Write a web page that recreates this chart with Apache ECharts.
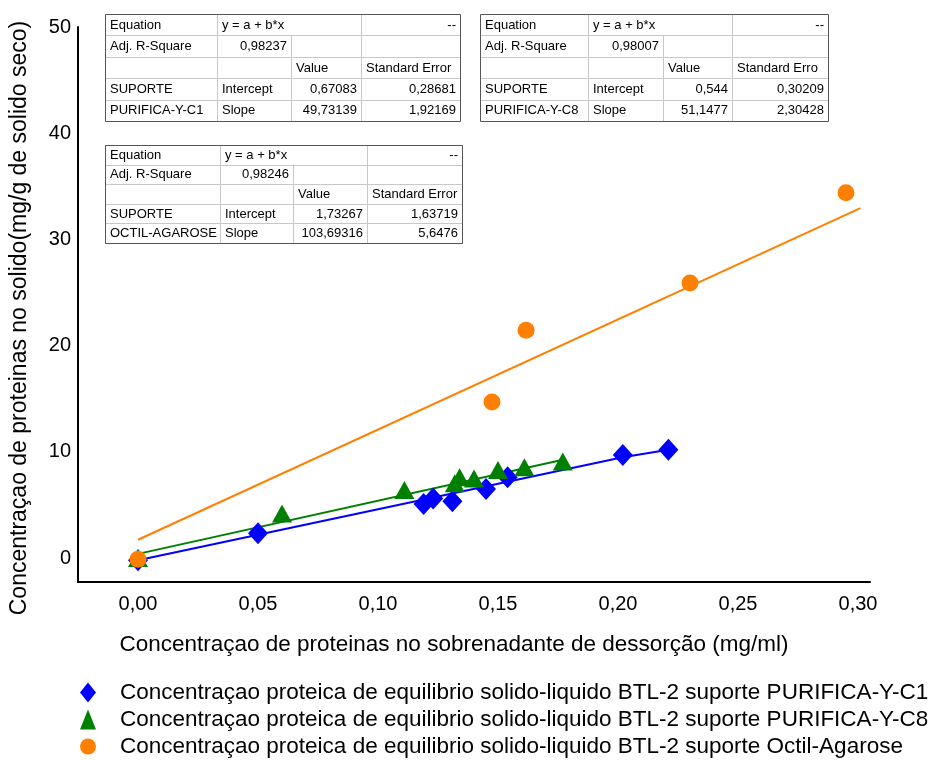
<!DOCTYPE html>
<html>
<head>
<meta charset="utf-8">
<script src="https://cdn.jsdelivr.net/npm/echarts@6/dist/echarts.min.js"></script>
<style>
  html, body { margin: 0; padding: 0; background: #fff; }
  #chart { width: 932px; height: 760px; }
</style>
</head>
<body>
<div id="chart"></div>
<script>
const FONT = '"Liberation Sans", Arial, sans-serif';

// Measured equilibrium points: [protein in desorption supernatant (mg/ml), protein on solid (mg/g)]
const c1Points = [[0.000, -0.2], [0.050, 2.35], [0.119, 5.1], [0.123, 5.6], [0.131, 5.35],
                  [0.145, 6.5], [0.154, 7.6], [0.202, 9.7], [0.221, 10.2]];
const c8Points = [[0.000, 0.0], [0.060, 4.2], [0.111, 6.4], [0.132, 7.05], [0.134, 7.6],
                  [0.140, 7.5], [0.150, 8.3], [0.161, 8.55], [0.177, 9.1]];
const octilPoints = [[0.000, -0.1], [0.1475, 14.7], [0.1617, 21.45], [0.230, 25.9], [0.295, 34.4]];

// Trend lines drawn over each support
const c1Trend = [[0, -0.2], [0.202, 9.5], [0.221, 10.2]];
const c8Trend = [[0, 0.4], [0.178, 9.3]];
const octilTrend = [[0, 1.73], [0.301, 32.94]];

const seriesNames = [
  'Concentraçao proteica de equilibrio solido-liquido BTL-2 suporte PURIFICA-Y-C1',
  'Concentraçao proteica de equilibrio solido-liquido BTL-2 suporte PURIFICA-Y-C8',
  'Concentraçao proteica de equilibrio solido-liquido BTL-2 suporte Octil-Agarose'
];

const xTitle = 'Concentraçao de proteinas no sobrenadante de dessorção (mg/ml)';
const yTitle = 'Concentraçao de proteinas no solido(mg/g de solido seco)';

// Linear fit summary tables
const fitC1 = [
  ['Equation', 'y = a + b*x', '', '--'],
  ['Adj. R-Square', '0,98237', '', ''],
  ['', '', 'Value', 'Standard Error'],
  ['SUPORTE', 'Intercept', '0,67083', '0,28681'],
  ['PURIFICA-Y-C1', 'Slope', '49,73139', '1,92169']
];
const fitC8 = [
  ['Equation', 'y = a + b*x', '', '--'],
  ['Adj. R-Square', '0,98007', '', ''],
  ['', '', 'Value', 'Standard Erro'],
  ['SUPORTE', 'Intercept', '0,544', '0,30209'],
  ['PURIFICA-Y-C8', 'Slope', '51,1477', '2,30428']
];
const fitOctil = [
  ['Equation', 'y = a + b*x', '', '--'],
  ['Adj. R-Square', '0,98246', '', ''],
  ['', '', 'Value', 'Standard Error'],
  ['SUPORTE', 'Intercept', '1,73267', '1,63719'],
  ['OCTIL-AGAROSE', 'Slope', '103,69316', '5,6476']
];

// Cell alignment: numbers right, labels left
function cellAlign(r, c) {
  if (c === 0) return 'left';
  if (c === 1) return r === 1 ? 'right' : 'left';
  if (c === 2) return r === 2 ? 'left' : 'right';
  return r === 2 ? 'left' : 'right';
}

function buildTable(x0, y0, colW, rowH, rows) {
  const els = [];
  const totalW = colW.reduce((a, b) => a + b, 0);
  const totalH = rowH * rows.length;
  els.push({ type: 'rect', shape: { x: x0, y: y0, width: totalW, height: totalH },
             style: { fill: '#fff', stroke: null }, z: 10 });
  // horizontal rules
  for (let r = 1; r < rows.length; r++) {
    const y = Math.round(y0 + r * rowH) + 0.5;
    els.push({ type: 'line', shape: { x1: x0, y1: y, x2: x0 + totalW, y2: y },
               style: { stroke: '#c8c8c8', lineWidth: 1 }, z: 11 });
  }
  // vertical rules (first row merges the equation cell)
  let cx = x0;
  for (let c = 0; c < colW.length - 1; c++) {
    cx += colW[c];
    const x = Math.round(cx) + 0.5;
    const yStart = c === 1 ? y0 + rowH : y0;
    els.push({ type: 'line', shape: { x1: x, y1: yStart, x2: x, y2: y0 + totalH },
               style: { stroke: '#c8c8c8', lineWidth: 1 }, z: 11 });
  }
  els.push({ type: 'rect', shape: { x: x0 + 0.5, y: y0 + 0.5, width: totalW, height: totalH },
             style: { fill: null, stroke: '#555', lineWidth: 1 }, z: 12 });
  // cell texts
  rows.forEach((row, r) => {
    let left = x0;
    row.forEach((txt, c) => {
      if (txt) {
        const al = cellAlign(r, c);
        els.push({ type: 'text', z: 13,
          style: { text: txt, x: al === 'left' ? left + 5 : left + colW[c] - 4,
                   y: y0 + r * rowH + rowH / 2 + 0.5, font: '13px ' + FONT, fill: '#000',
                   textAlign: al, textVerticalAlign: 'middle' } });
      }
      left += colW[c];
    });
  });
  return els;
}

const graphics = [].concat(
  buildTable(105, 14, [112, 74, 70, 99], 21.4, fitC1),
  buildTable(480, 14, [108, 75, 69, 96], 21.4, fitC8),
  buildTable(105, 145, [115, 73, 74, 95], 19.6, fitOctil),
  [
    { type: 'text', x: 20, y: 318, rotation: Math.PI / 2,
      style: { text: yTitle, x: 0, y: 0, font: '23px ' + FONT, fill: '#000',
               textAlign: 'center', textVerticalAlign: 'middle' } },
    { type: 'text', x: 454, y: 645,
      style: { text: xTitle, x: 0, y: 0, font: '22.5px ' + FONT, fill: '#000',
               textAlign: 'center', textVerticalAlign: 'middle' } }
  ]
);

function xLabel(v) {
  const k = Math.round(v / 0.05);
  return (k >= 0 && Math.abs(v - k * 0.05) < 1e-9) ? (k * 0.05).toFixed(2).replace('.', ',') : '';
}
function yLabel(v) {
  const k = Math.round(v / 10);
  return (k >= 0 && Math.abs(v - k * 10) < 1e-9) ? String(k * 10) : '';
}

const chart = echarts.init(document.getElementById('chart'), null, { renderer: 'canvas' });
chart.setOption({
  animation: false,
  backgroundColor: '#fff',
  grid: { left: 78, top: 27, right: 62, bottom: 178, containLabel: false },
  xAxis: {
    type: 'value', min: -0.025, max: 0.305, interval: 0.025,
    axisLine: { show: true, onZero: false, lineStyle: { color: '#000', width: 2 } },
    axisTick: { show: false },
    splitLine: { show: false },
    axisLabel: { formatter: xLabel, margin: 12, fontSize: 20, fontFamily: FONT, color: '#000' }
  },
  yAxis: {
    type: 'value', min: -2.25, max: 50, interval: 0.25,
    axisLine: { show: true, onZero: false, lineStyle: { color: '#000', width: 2 } },
    axisTick: { show: false },
    splitLine: { show: false },
    axisLabel: { formatter: yLabel, margin: 7, fontSize: 20, fontFamily: FONT, color: '#000' }
  },
  legend: {
    orient: 'vertical', left: 80, top: 681, padding: 0,
    itemWidth: 16, itemHeight: 20, itemGap: 4,
    textStyle: { fontSize: 22.5, fontFamily: FONT, color: '#000', lineHeight: 22, padding: [0, 0, 0, 19] },
    data: seriesNames
  },
  graphic: graphics,
  series: [
    { name: 'c1-trend', type: 'line', data: c1Trend, symbol: 'none', silent: true,
      lineStyle: { color: '#0000ff', width: 2 }, z: 2 },
    { name: 'c8-trend', type: 'line', data: c8Trend, symbol: 'none', silent: true,
      lineStyle: { color: '#008000', width: 2 }, z: 2 },
    { name: 'octil-trend', type: 'line', data: octilTrend, symbol: 'none', silent: true,
      lineStyle: { color: '#ff8000', width: 2 }, z: 2 },
    { name: seriesNames[0], type: 'scatter', data: c1Points, symbol: 'diamond',
      symbolSize: [20, 22], itemStyle: { color: '#0000ff', opacity: 1 }, z: 3 },
    { name: seriesNames[1], type: 'scatter', data: c8Points, symbol: 'triangle',
      symbolSize: [20, 18], itemStyle: { color: '#008000', opacity: 1 }, z: 4 },
    { name: seriesNames[2], type: 'scatter', data: octilPoints, symbol: 'circle',
      symbolSize: 17, itemStyle: { color: '#ff8000', opacity: 1 }, z: 5 }
  ]
});
</script>
</body>
</html>
